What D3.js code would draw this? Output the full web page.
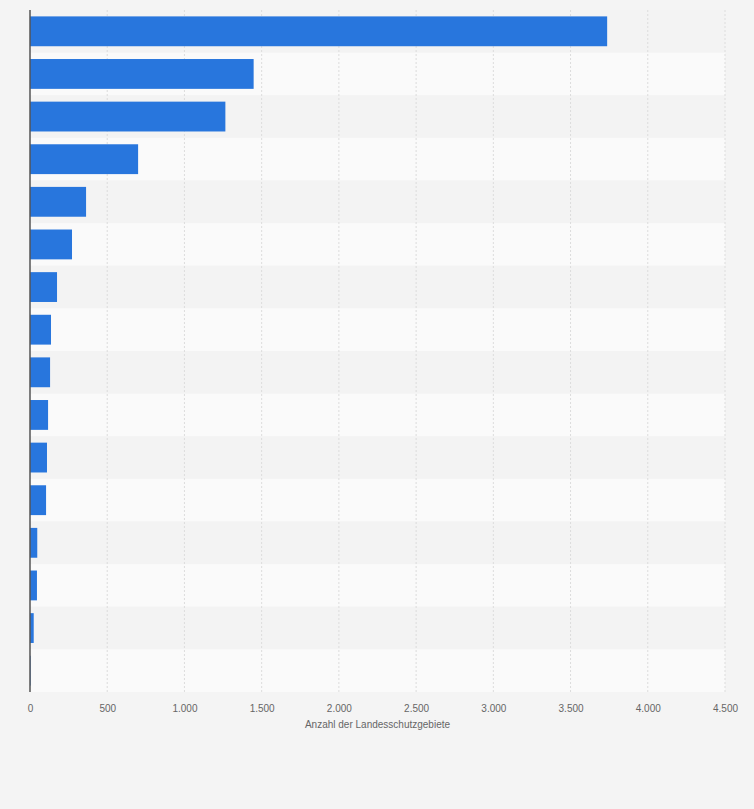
<!DOCTYPE html>
<html>
<head>
<meta charset="UTF-8">
<script src="https://cdn.jsdelivr.net/npm/d3@7"></script>
<style>
  body { margin: 0; background: #f4f4f4; font-family: "Liberation Sans", Arial, sans-serif; }
</style>
</head>
<body>
<svg id="chart" width="754" height="809"></svg>
<script>
// values, top to bottom
const categories = ["r1","r2","r3","r4","r5","r6","r7","r8","r9","r10","r11","r12","r13","r14","r15","r16"];
const values = [3737, 1448, 1265, 700, 363, 272, 175, 136, 130, 117, 110, 104, 47, 45, 24, 4];
const ticks = [0, 500, 1000, 1500, 2000, 2500, 3000, 3500, 4000, 4500];
const axisTitle = "Anzahl der Landesschutzgebiete";

const svg = d3.select("#chart");
const m = { left: 30, right: 29, top: 10, bottom: 117 };
const W = 754 - m.left - m.right, H = 809 - m.top - m.bottom;
const g = svg.append("g").attr("transform", `translate(${m.left},${m.top})`);

const x = d3.scaleLinear().domain([0, 4500]).range([0, W]);
const y = d3.scaleBand().domain(categories).range([0, H]).paddingInner(0.3).paddingOuter(0.15);
const step = y.step();

// row bands
g.selectAll("rect.band").data(categories).join("rect")
  .attr("x", 0).attr("width", W)
  .attr("y", (d, i) => i * (H / categories.length))
  .attr("height", H / categories.length)
  .attr("fill", (d, i) => i % 2 ? "#fafafa" : "#f3f3f3");

// grid
g.selectAll("line.grid").data(ticks.slice(1)).join("line")
  .attr("x1", d => x(d)).attr("x2", d => x(d))
  .attr("y1", 0).attr("y2", H)
  .attr("stroke", "#dcdcdc").attr("stroke-dasharray", "2,2");

// bars
g.selectAll("rect.bar").data(values).join("rect")
  .attr("x", 0)
  .attr("y", (d, i) => y(categories[i]))
  .attr("height", y.bandwidth())
  .attr("width", d => x(d))
  .attr("fill", "#2876dd");

// axis line
g.append("line").attr("x1", 0).attr("x2", 0).attr("y1", 0).attr("y2", H)
  .attr("stroke", "#555").attr("stroke-width", 1.5);

const fmt = d3.formatLocale({ decimal: ",", thousands: ".", grouping: [3], currency: ["", "€"] }).format(",");
const ax = g.append("g").attr("transform", `translate(0,${H})`)
  .call(d3.axisBottom(x).tickValues(ticks).tickFormat(fmt).tickSize(0).tickPadding(13));
ax.select(".domain").remove();
ax.selectAll("text").attr("fill", "#666").attr("font-size", 10)
  .attr("font-family", "Liberation Sans, Arial, sans-serif");

g.append("text").attr("x", W / 2).attr("y", H + 36)
  .attr("text-anchor", "middle").attr("font-size", 10).attr("fill", "#666")
  .text(axisTitle);
</script>
</body>
</html>
